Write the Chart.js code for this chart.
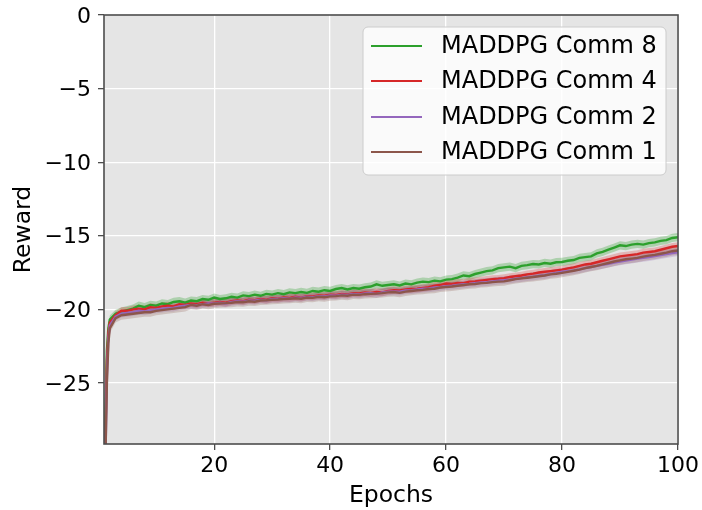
<!DOCTYPE html>
<html><head><meta charset="utf-8">
<script src="https://cdn.jsdelivr.net/npm/chart.js@4/dist/chart.umd.min.js"></script>
<style>html,body{margin:0;padding:0;background:#fff}#c{display:block}</style>
</head><body>
<canvas id="c" width="702" height="510"></canvas>
<script>
const epochs = [1,1.25,1.5,1.75,2,3,4,5,6,7,8,9,10,11,12,13,14,15,16,17,18,19,20,21,22,23,24,25,26,27,28,29,30,31,32,33,34,35,36,37,38,39,40,41,42,43,44,45,46,47,48,49,50,51,52,53,54,55,56,57,58,59,60,61,62,63,64,65,66,67,68,69,70,71,72,73,74,75,76,77,78,79,80,81,82,83,84,85,86,87,88,89,90,91,92,93,94,95,96,97,98,99,100];

const comm8 = [-34,-27,-22.8,-21.3,-20.7,-20.3,-20.15,-20.05,-19.95,-19.75,-19.85,-19.7,-19.75,-19.6,-19.65,-19.5,-19.45,-19.55,-19.4,-19.45,-19.3,-19.35,-19.2,-19.3,-19.25,-19.15,-19.2,-19.05,-19.1,-19.0,-19.08,-18.95,-19.0,-18.9,-18.97,-18.85,-18.9,-18.82,-18.88,-18.75,-18.8,-18.7,-18.75,-18.62,-18.55,-18.65,-18.55,-18.6,-18.5,-18.45,-18.3,-18.4,-18.35,-18.3,-18.38,-18.25,-18.3,-18.18,-18.12,-18.15,-18.05,-18.1,-17.98,-17.95,-17.85,-17.7,-17.75,-17.6,-17.5,-17.4,-17.35,-17.2,-17.15,-17.1,-17.2,-17.05,-17.0,-16.92,-16.95,-16.85,-16.9,-16.8,-16.78,-16.7,-16.65,-16.5,-16.45,-16.4,-16.2,-16.1,-15.95,-15.8,-15.65,-15.7,-15.6,-15.55,-15.6,-15.5,-15.45,-15.35,-15.3,-15.15,-15.1];

const comm4 = [-35,-28.5,-23.5,-21.6,-20.9,-20.4,-20.1,-20.1,-20.0,-19.95,-20.0,-19.85,-19.9,-19.8,-19.75,-19.8,-19.65,-19.7,-19.6,-19.65,-19.55,-19.6,-19.55,-19.5,-19.55,-19.45,-19.4,-19.45,-19.35,-19.38,-19.3,-19.35,-19.25,-19.28,-19.2,-19.22,-19.15,-19.2,-19.1,-19.12,-19.05,-19.08,-19.0,-19.02,-18.95,-18.98,-18.9,-18.92,-18.85,-18.88,-18.82,-18.85,-18.75,-18.7,-18.72,-18.65,-18.62,-18.6,-18.55,-18.5,-18.4,-18.35,-18.25,-18.28,-18.2,-18.22,-18.12,-18.1,-18.05,-18.0,-17.95,-17.92,-17.88,-17.8,-17.75,-17.7,-17.62,-17.57,-17.5,-17.45,-17.4,-17.35,-17.3,-17.22,-17.15,-17.05,-16.95,-16.9,-16.8,-16.7,-16.6,-16.5,-16.4,-16.35,-16.3,-16.25,-16.15,-16.1,-16.05,-15.95,-15.85,-15.75,-15.7];

const comm2 = [-36.5,-30,-24.5,-22,-21.1,-20.5,-20.3,-20.25,-20.2,-20.1,-20.15,-20.05,-20.0,-19.95,-19.9,-19.88,-19.8,-19.75,-19.7,-19.72,-19.65,-19.6,-19.6,-19.55,-19.6,-19.5,-19.45,-19.48,-19.4,-19.42,-19.35,-19.38,-19.3,-19.3,-19.25,-19.27,-19.2,-19.22,-19.15,-19.17,-19.1,-19.12,-19.05,-19.07,-19.0,-19.02,-18.95,-18.98,-18.92,-18.9,-18.95,-18.85,-18.8,-18.78,-18.8,-18.72,-18.7,-18.65,-18.6,-18.58,-18.52,-18.48,-18.42,-18.4,-18.35,-18.3,-18.28,-18.22,-18.18,-18.15,-18.1,-18.05,-18.02,-17.98,-17.92,-17.88,-17.82,-17.78,-17.72,-17.68,-17.6,-17.52,-17.45,-17.4,-17.35,-17.28,-17.2,-17.12,-17.05,-16.98,-16.9,-16.82,-16.75,-16.68,-16.62,-16.55,-16.5,-16.45,-16.38,-16.32,-16.25,-16.18,-16.12];

const comm1 = [-36,-30,-25,-22.3,-21.3,-20.6,-20.4,-20.35,-20.3,-20.25,-20.2,-20.2,-20.1,-20.05,-20.0,-19.95,-19.9,-19.85,-19.7,-19.75,-19.65,-19.7,-19.62,-19.6,-19.58,-19.55,-19.5,-19.52,-19.45,-19.48,-19.4,-19.38,-19.35,-19.33,-19.3,-19.28,-19.25,-19.28,-19.2,-19.22,-19.15,-19.18,-19.12,-19.1,-19.05,-19.08,-19.0,-19.02,-18.97,-18.95,-18.93,-18.9,-18.85,-18.82,-18.88,-18.8,-18.75,-18.7,-18.68,-18.62,-18.6,-18.52,-18.48,-18.45,-18.4,-18.35,-18.3,-18.28,-18.22,-18.2,-18.15,-18.12,-18.1,-18.02,-17.95,-17.9,-17.85,-17.8,-17.75,-17.7,-17.62,-17.58,-17.52,-17.45,-17.38,-17.3,-17.2,-17.12,-17.05,-16.95,-16.85,-16.75,-16.67,-16.6,-16.55,-16.5,-16.42,-16.35,-16.3,-16.22,-16.15,-16.05,-16.0];

const seriesNames = ['MADDPG Comm 8','MADDPG Comm 4','MADDPG Comm 2','MADDPG Comm 1'];
const seriesValues = [comm8, comm4, comm2, comm1];
const seriesSpread = [0.28, 0.26, 0.26, 0.3];
const xTicks = [20,40,60,80,100];
const yTicks = [0,-5,-10,-15,-20,-25];

const colors = ['#2ca02c','#d62728','#9467bd','#8c564b'];
const bandColors = ['rgba(44,160,44,0.3)','rgba(214,39,40,0.25)','rgba(148,103,189,0.25)','rgba(140,86,75,0.25)'];
const lineOrder = [4,3,2,1];

const datasets = [];
seriesValues.forEach((vals, i) => {
  const s = seriesSpread[i];
  datasets.push({
    data: vals.map((v, k) => ({x: epochs[k], y: v + s})),
    borderWidth: 0, pointRadius: 0, fill: '+1', backgroundColor: bandColors[i],
    borderColor: 'rgba(0,0,0,0)', order: 20 - i, tension: 0
  });
  datasets.push({
    data: vals.map((v, k) => ({x: epochs[k], y: v - s})),
    borderWidth: 0, pointRadius: 0, fill: false,
    borderColor: 'rgba(0,0,0,0)', order: 20 - i, tension: 0
  });
});
seriesValues.forEach((vals, i) => {
  datasets.push({
    label: seriesNames[i],
    data: vals.map((v, k) => ({x: epochs[k], y: v})),
    borderColor: colors[i], borderWidth: 2.4, pointRadius: 0, fill: false,
    order: lineOrder[i], tension: 0
  });
});

const FONT = "'DejaVu Sans', sans-serif";
const minus = v => v < 0 ? '\u2212' + Math.abs(v) : String(v);

const decor = {
  id: 'decor',
  beforeDraw(chart) {
    const {ctx, chartArea: a} = chart;
    ctx.save();
    ctx.fillStyle = '#e5e5e5';
    ctx.fillRect(a.left, a.top, a.right - a.left, a.bottom - a.top);
    ctx.restore();
  },
  afterDraw(chart) {
    const {ctx, chartArea: a} = chart;
    ctx.save();
    ctx.strokeStyle = '#4d4d4d';
    ctx.lineWidth = 1.6;
    ctx.strokeRect(a.left, a.top, a.right - a.left, a.bottom - a.top);
    // legend
    const lx = 363, ly = 27, lw = 303, lh = 148, r = 5;
    ctx.beginPath();
    ctx.moveTo(lx + r, ly);
    ctx.arcTo(lx + lw, ly, lx + lw, ly + lh, r);
    ctx.arcTo(lx + lw, ly + lh, lx, ly + lh, r);
    ctx.arcTo(lx, ly + lh, lx, ly, r);
    ctx.arcTo(lx, ly, lx + lw, ly, r);
    ctx.closePath();
    ctx.fillStyle = 'rgba(255,255,255,0.8)';
    ctx.fill();
    ctx.strokeStyle = '#cccccc';
    ctx.lineWidth = 1;
    ctx.stroke();
    const ys = [46, 81, 117, 152];
    ctx.font = '24px ' + FONT;
    ctx.textBaseline = 'middle';
    ctx.textAlign = 'left';
    seriesNames.forEach((n, i) => {
      ctx.strokeStyle = colors[i];
      ctx.lineWidth = 2.2;
      ctx.beginPath();
      ctx.moveTo(371, ys[i]);
      ctx.lineTo(422, ys[i]);
      ctx.stroke();
      ctx.fillStyle = '#000';
      ctx.fillText(n, 441, ys[i] + 1);
    });
    ctx.restore();
  }
};

new Chart(document.getElementById('c'), {
  type: 'line',
  data: {datasets},
  options: {
    responsive: false,
    animation: false,
    events: [],
    layout: {padding: {left: 0, right: 23, top: 15, bottom: 0}},
    plugins: {legend: {display: false}, tooltip: {enabled: false}},
    scales: {
      x: {
        type: 'linear', min: 1, max: 100,
        afterFit(s) { s.height = 66; },
        afterBuildTicks(s) { s.ticks = xTicks.map(v => ({value: v})); },
        ticks: {font: {family: FONT, size: 22}, color: '#000', padding: 3, maxRotation: 0, autoSkip: false},
        grid: {color: '#ffffff', lineWidth: 1.3, tickColor: '#4d4d4d', tickLength: 6, tickWidth: 1.3},
        border: {display: false},
        title: {display: true, text: 'Epochs', font: {family: FONT, size: 23.5}, color: '#000', padding: {top: 0, bottom: 0}}
      },
      y: {
        type: 'linear', min: -29.15, max: 0,
        afterFit(s) { s.width = 104; s.paddingTop = 0; s.paddingBottom = 0; },
        afterBuildTicks(s) { s.ticks = yTicks.map(v => ({value: v})); },
        ticks: {font: {family: FONT, size: 22, lineHeight: 0.8}, color: '#000', padding: 7, labelOffset: 2, callback: v => minus(v), autoSkip: false},
        grid: {color: '#ffffff', lineWidth: 1.3, tickColor: '#4d4d4d', tickLength: 6, tickWidth: 1.3},
        border: {display: false},
        title: {display: true, text: 'Reward', font: {family: FONT, size: 23.5}, color: '#000', padding: {top: 10, bottom: 10}}
      }
    }
  },
  plugins: [decor]
});
</script>
</body></html>
